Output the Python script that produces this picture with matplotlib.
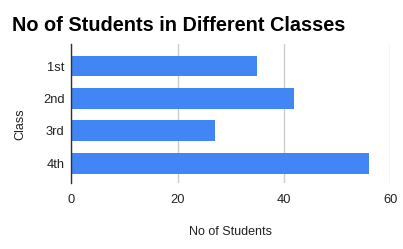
import matplotlib.pyplot as plt

classes = ['1st', '2nd', '3rd', '4th']
students = [35, 42, 27, 56]
xticks = [0, 20, 40, 60]

plt.rcParams['font.family'] = ['Liberation Sans', 'DejaVu Sans']

fig = plt.figure(figsize=(4.03, 2.49), dpi=100)
ax = fig.add_axes([0.177, 0.264, 0.791, 0.5605])

ypos = range(len(classes))
ax.barh(ypos, students, height=0.64, color='#4285F4', zorder=3)

ax.set_xlim(0, 60)
ax.set_ylim(3.62, -0.69)
ax.set_xticks(xticks)
ax.set_yticks(list(ypos))
ax.set_yticklabels(classes)
ax.tick_params(axis='both', length=0, labelsize=9.3, colors='#222222')
ax.tick_params(axis='x', pad=8)
ax.tick_params(axis='y', pad=5)

ax.grid(axis='x', color='#cccccc', linewidth=1, zorder=0)
for s in ['top', 'right', 'bottom']:
    ax.spines[s].set_visible(False)
ax.spines['left'].set_color('#333333')
ax.spines['left'].set_linewidth(1)
ax.spines['left'].set_zorder(4)

ax.set_xlabel('No of Students', fontsize=9, color='#222222')
ax.xaxis.set_label_coords(0.5, -0.305)
ax.set_ylabel('Class', fontsize=9, color='#222222')
ax.yaxis.set_label_coords(-0.14, 0.42)

fig.text(0.031, 0.877, 'No of Students in Different Classes', fontsize=14.3,
         fontweight='bold', color='black', ha='left', va='baseline')

fig.savefig('out.png', dpi=100)
